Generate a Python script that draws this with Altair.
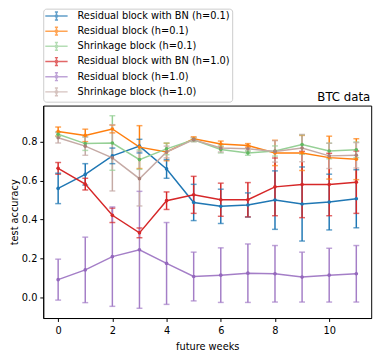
import altair as alt
import pandas as pd

weeks = list(range(12))
series_names = [
    "Residual block with BN (h=0.1)",
    "Residual block (h=0.1)",
    "Shrinkage block (h=0.1)",
    "Residual block with BN (h=1.0)",
    "Residual block (h=1.0)",
    "Shrinkage block (h=1.0)",
]
bn01 = [0.56, 0.632, 0.727, 0.777, 0.66, 0.488, 0.468, 0.475, 0.50, 0.48, 0.49, 0.507]
bn01_err = [0.078, 0.055, 0.04, 0.035, 0.048, 0.093, 0.088, 0.062, 0.15, 0.19, 0.143, 0.149]
res01 = [0.852, 0.832, 0.865, 0.772, 0.747, 0.815, 0.788, 0.78, 0.742, 0.742, 0.718, 0.71]
res01_err = [0.023, 0.032, 0.02, 0.11, 0.045, 0.01, 0.015, 0.01, 0.065, 0.09, 0.11, 0.105]
shr01 = [0.838, 0.79, 0.793, 0.708, 0.763, 0.81, 0.76, 0.742, 0.752, 0.785, 0.752, 0.758]
shr01_err = [0.012, 0.035, 0.14, 0.05, 0.03, 0.01, 0.018, 0.012, 0.026, 0.05, 0.04, 0.04]
bn10 = [0.663, 0.582, 0.422, 0.332, 0.497, 0.527, 0.502, 0.502, 0.568, 0.58, 0.58, 0.592]
bn10_err = [0.03, 0.03, 0.037, 0.025, 0.045, 0.095, 0.085, 0.088, 0.148, 0.17, 0.16, 0.16]
res10 = [0.092, 0.142, 0.21, 0.245, 0.175, 0.108, 0.115, 0.125, 0.122, 0.105, 0.115, 0.122]
res10_err = [0.105, 0.168, 0.255, 0.30, 0.21, 0.125, 0.14, 0.15, 0.145, 0.128, 0.138, 0.145]
shr10 = [0.82, 0.777, 0.717, 0.61, 0.747, 0.81, 0.767, 0.763, 0.75, 0.767, 0.727, 0.73]
shr10_err = [0.027, 0.047, 0.17, 0.14, 0.03, 0.01, 0.02, 0.015, 0.055, 0.07, 0.065, 0.065]

line_colors = ["#1f77b4", "#ff7f0e", "#96d096", "#d62728", "#a47ec7", "#c5aaa5"]
point_colors = ["#1f77b4", "#ff7f0e", "#61b861", "#d62728", "#9467bd", "#a98078"]

means = [bn01, res01, shr01, bn10, res10, shr10]
errs = [bn01_err, res01_err, shr01_err, bn10_err, res10_err, shr10_err]

rows = []
for name, m, e in zip(series_names, means, errs):
    for w, v, d in zip(weeks, m, e):
        rows.append({"series": name, "week": w, "acc": v, "lo": v - d, "hi": v + d})
df = pd.DataFrame(rows)

FONT = "DejaVu Sans"
x = alt.X("week:Q", scale=alt.Scale(domain=[-0.55, 11.55], nice=False, zero=False),
          axis=alt.Axis(values=[0, 2, 4, 6, 8, 10], title="future weeks", format="d"))
y_scale = alt.Scale(domain=[-0.105, 0.985], nice=False, zero=False)
y_axis = alt.Axis(values=[0.0, 0.2, 0.4, 0.6, 0.8], format=".1f", title="test accuracy")

legend = alt.Legend(
    title=None, orient="none", legendX=0, legendY=-99,
    symbolType=("M-2.85,0H2.85M0,-1V1M-0.4,-1H0.4M-0.4,1H0.4"
                "M0.3,0A0.3,0.3 0 1,1 -0.3,0A0.3,0.3 0 1,1 0.3,0"),
    symbolSize=64, symbolStrokeWidth=1.5, symbolOffset=6,
    labelFont=FONT, labelFontSize=10, labelColor="black", labelOffset=16.5, labelLimit=400,
    strokeColor="#cccccc", fillColor="white", cornerRadius=3, padding=2.5,
    rowPadding=1.5, offset=0,
)
color = alt.Color("series:N", scale=alt.Scale(domain=series_names, range=line_colors), legend=legend)
fill = alt.Fill("series:N", scale=alt.Scale(domain=series_names, range=point_colors), legend=None)

base = alt.Chart(df)
bars = base.mark_rule(strokeWidth=1.5).encode(
    x=x, y=alt.Y("lo:Q", scale=y_scale, axis=y_axis), y2="hi:Q", color=color)
cap_lo = base.mark_tick(orient="horizontal", size=6, thickness=1.5).encode(
    x=x, y=alt.Y("lo:Q", scale=y_scale, axis=y_axis), color=color)
cap_hi = base.mark_tick(orient="horizontal", size=6, thickness=1.5).encode(
    x=x, y=alt.Y("hi:Q", scale=y_scale, axis=y_axis), color=color)
lines = base.mark_line(strokeWidth=1.5).encode(
    x=x, y=alt.Y("acc:Q", scale=y_scale, axis=y_axis), color=color)
pts = base.mark_circle(size=14, opacity=1).encode(
    x=x, y=alt.Y("acc:Q", scale=y_scale, axis=y_axis), fill=fill)

title = alt.Chart(pd.DataFrame({"t": ["BTC data"]})).mark_text(
    align="right", baseline="alphabetic", font=FONT, fontSize=12, color="black"
).encode(text="t:N", x=alt.value(334), y=alt.value(-5))

chart = alt.layer(bars, cap_lo, cap_hi, lines, pts, title).properties(
    width=335, height=217,
    autosize=alt.AutoSizeParams(type="none"),
    padding={"left": 36, "top": 96, "right": 10, "bottom": 30},
).configure(font=FONT).configure_view(stroke="black", strokeWidth=1).configure_axis(
    grid=False, domainColor="black", tickColor="black", tickSize=3.5,
    labelFont=FONT, labelFontSize=10, labelColor="black",
    titleFont=FONT, titleFontSize=10, titleFontWeight="normal", titleColor="black",
).configure_axisX(labelPadding=4, titlePadding=7).configure_axisY(labelPadding=3, titlePadding=2)

chart.save("out.html", embed_options={"renderer": "svg", "actions": False})
